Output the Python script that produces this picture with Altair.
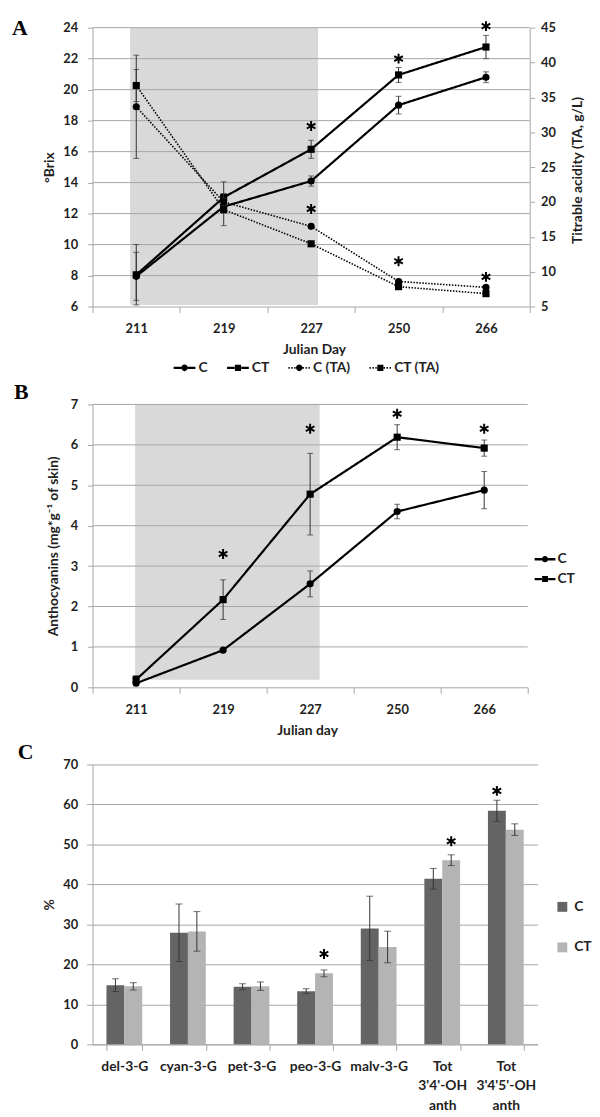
import json
import altair as alt
import pandas as pd

# ---------------- Panel A : °Brix and titrable acidity ----------------
days = ["211", "219", "227", "250", "266"]
series_A = ["C", "CT", "C (TA)", "CT (TA)"]
brix_C = [7.95, 12.45, 14.1, 19.0, 20.8]
brix_C_err = [1.55, 0.3, 0.33, 0.57, 0.35]
brix_CT = [8.05, 13.05, 16.15, 20.95, 22.75]
brix_CT_err = [1.95, 1.0, 0.58, 0.48, 0.75]
ta_C = [33.65, 20.0, 16.5, 8.6, 7.75]
ta_C_err = [7.4, 0.5, 0.3, 0.3, 0.25]
ta_CT = [36.7, 18.9, 14.0, 7.85, 6.85]
ta_CT_err = [2.3, 2.3, 0.3, 0.3, 0.25]
star_brix_days = ["227", "250", "266"]
star_brix_y = [17.65, 22.0, 24.1]
star_ta_days = ["227", "250", "266"]
star_ta_y = [19.0, 11.5, 9.25]
brix_ticks = [6, 8, 10, 12, 14, 16, 18, 20, 22, 24]
ta_ticks = [5, 10, 15, 20, 25, 30, 35, 40, 45]
shade_A_slots = [0.43, 2.58]
shade_A_brix = [6.1, 24]

# ---------------- Panel B : anthocyanins ----------------
series_B = ["C", "CT"]
antho_C = [0.1, 0.92, 2.56, 4.35, 4.88]
antho_C_err = [0.05, 0.03, 0.32, 0.18, 0.46]
antho_CT = [0.19, 2.17, 4.78, 6.19, 5.92]
antho_CT_err = [0.1, 0.49, 1.01, 0.31, 0.2]
star_B_days = ["219", "227", "250", "266"]
star_B_y = [3.3, 6.4, 6.77, 6.4]
antho_ticks = [0, 1, 2, 3, 4, 5, 6, 7]
shade_B_slots = [0.49, 2.61]
shade_B_y = [0.19, 7]

# ---------------- Panel C : anthocyanin profile ----------------
pigments = ["del-3-G", "cyan-3-G", "pet-3-G", "peo-3-G", "malv-3-G",
            "Tot 3'4'-OH anth", "Tot 3'4'5'-OH anth"]
treats = ["C", "CT"]
pct_C = [14.8, 27.9, 14.4, 13.3, 29.0, 41.4, 58.4]
pct_C_err = [1.6, 7.2, 0.75, 0.6, 8.05, 2.6, 2.65]
pct_CT = [14.5, 28.25, 14.55, 17.75, 24.35, 46.05, 53.7]
pct_CT_err = [0.92, 4.95, 1.05, 0.85, 3.95, 1.35, 1.45]
star_C_pigments = ["peo-3-G", "Tot 3'4'-OH anth", "Tot 3'4'5'-OH anth"]
star_C_treats = ["CT", "CT", "C"]
star_C_y = [22.6, 50.8, 63.4]
pct_ticks = [0, 10, 20, 30, 40, 50, 60, 70]

panel_letters = ["A", "B", "C"]

# ---------------- styles ----------------
GRID = "#a6a6a6"
INK = "#1f1f1f"
ERR = "#333333"
SHADE = "#d9d9d9"
FONT = "Lato"
DARK = "#646464"
LIGHT = "#b4b4b4"
STAR = "M0,-1L0,1M-0.87,-0.5L0.87,0.5M-0.87,0.5L0.87,-0.5"
SOLID = [1, 0]
DOTTED = [1.5, 1.5]


def _rect(x0, x1, hw):
    return f"M{x0:.3f},{-hw}H{x1:.3f}V{hw}H{x0:.3f}Z"


def legend_glyph(marker, dotted):
    """Unit-space path: a line (solid or dotted) through a circle / square marker."""
    hw = 0.11 if not dotted else 0.075
    parts = []
    for a, b in [(-1.0, -0.3), (0.3, 1.0)]:
        if dotted:
            x = a
            while x + 0.13 <= b + 1e-9:
                parts.append(_rect(x, x + 0.13, hw))
                x += 0.27
        else:
            parts.append(_rect(a, b, hw))
    if marker == "circle":
        parts.append("M-0.3,0A0.3,0.3 0 1,1 0.3,0A0.3,0.3 0 1,1 -0.3,0Z")
    else:
        parts.append("M-0.28,-0.28H0.28V0.28H-0.28Z")
    return "".join(parts)


WA, HA = 442, 282
WB, HB = 440, 286
WC, HC = 450, 283
GAP_AB, GAP_BC = 98.3, 77.3


def slot(d):
    return days.index(d) + 0.5


def series_frame(names, values, errs):
    rows = []
    for name, vals, es in zip(names, values, errs):
        for d, v, e in zip(days, vals, es):
            rows.append({"series": name, "slot": slot(d), "value": v,
                         "lo": v - e, "hi": v + e})
    return pd.DataFrame(rows)


label_expr = f"datum.value < {len(days)} ? {json.dumps(days)}[datum.value] : ''"


def x_day(field, width, title, title_x):
    return alt.X(f"{field}:Q",
                 scale=alt.Scale(domain=[0, len(days)], nice=False, zero=False),
                 axis=alt.Axis(values=list(range(len(days) + 1)), labelExpr=label_expr,
                               labelOffset=width / len(days) / 2, tickSize=6, labelPadding=10,
                               titleX=title_x, titleY=43.5, titleAlign="center",
                               titleBaseline="middle"),
                 title=title)


def letter(txt, x, y):
    return alt.Chart(pd.DataFrame({"t": [txt]})).mark_text(
        font="Liberation Serif", fontSize=22, fontWeight="bold", align="left",
        baseline="alphabetic", color="black").encode(
        text="t:N", x=alt.value(x), y=alt.value(y))


def spacer(w, h):
    return alt.Chart(pd.DataFrame({"s": [0]})).mark_point(opacity=0, size=1).encode(
        x=alt.value(0), y=alt.value(0)).properties(width=w, height=h)


def legend_layer(names, glyphs, size, **kw):
    """A legend-only layer: no rows, so it draws nothing but its legend."""
    leg = alt.Legend(title=None, orient="none", padding=0, symbolStrokeWidth=0,
                     symbolFillColor="black", symbolOpacity=1, symbolSize=size, **kw)
    return alt.Chart(pd.DataFrame({"series": pd.Series([], dtype=str)})).mark_point(
        filled=True, color="black", size=size, opacity=1
    ).encode(shape=alt.Shape("series:N", scale=alt.Scale(domain=names, range=glyphs),
                             legend=leg))


def line_panel(df, stars_df, x_enc, y_fn, shape_map, line_width, dash):
    lines = alt.Chart(df).mark_line(color="black", strokeWidth=line_width,
                                    strokeDash=dash).encode(
        x=x_enc("slot"), y=y_fn("value"), detail="series:N")
    rules = alt.Chart(df).mark_rule(color=ERR, strokeWidth=1).encode(
        x=x_enc("slot"), y=y_fn("lo"), y2="hi")
    cap_lo = alt.Chart(df).mark_tick(orient="horizontal", size=6, thickness=1, color=ERR).encode(
        x=x_enc("slot"), y=y_fn("lo"))
    cap_hi = alt.Chart(df).mark_tick(orient="horizontal", size=6, thickness=1, color=ERR).encode(
        x=x_enc("slot"), y=y_fn("hi"))
    pts = []
    for shp, names in shape_map.items():
        pts.append(alt.Chart(df).transform_filter(
            alt.FieldOneOfPredicate(field="series", oneOf=names)).mark_point(
            shape=shp, filled=True, size=52, color="black", opacity=1).encode(
            x=x_enc("slot"), y=y_fn("value")))
    st = alt.Chart(stars_df).mark_point(shape=STAR, size=100, filled=False, color="black",
                                        strokeWidth=2, opacity=1).encode(
        x=x_enc("slot"), y=y_fn("y"))
    return [rules, cap_lo, cap_hi, lines, *pts, st]


# ================= Panel A =================
brix_df = series_frame(["C", "CT"], [brix_C, brix_CT], [brix_C_err, brix_CT_err])
ta_df = series_frame(["C (TA)", "CT (TA)"], [ta_C, ta_CT], [ta_C_err, ta_CT_err])
brix_star_df = pd.DataFrame({"slot": [slot(d) for d in star_brix_days], "y": star_brix_y})
ta_star_df = pd.DataFrame({"slot": [slot(d) for d in star_ta_days], "y": star_ta_y})


def xA(field):
    return x_day(field, WA, "Julian Day", 224)


def y_brix(field):
    return alt.Y(f"{field}:Q", scale=alt.Scale(domain=[6, 24], nice=False, zero=False),
                 axis=alt.Axis(values=brix_ticks, tickSize=5, labelPadding=10, titleAngle=270,
                               titleX=-43, titleY=HA / 2, titleAlign="center",
                               titleBaseline="middle"),
                 title="°Brix")


def y_ta(field):
    return alt.Y(f"{field}:Q", scale=alt.Scale(domain=[5, 45], nice=False, zero=False),
                 axis=alt.Axis(orient="right", values=ta_ticks, tickSize=5, labelPadding=6,
                               titleAngle=270, titleX=48, titleY=HA / 2 + 3,
                               titleAlign="center", titleBaseline="middle"),
                 title="Titrable acidity (TA, g/L)")


shadeA = alt.Chart(pd.DataFrame({"x0": [shade_A_slots[0]], "x1": [shade_A_slots[1]],
                                 "y0": [shade_A_brix[0]], "y1": [shade_A_brix[1]]})
                   ).mark_rect(color=SHADE).encode(x=xA("x0"), x2="x1", y=y_brix("y0"), y2="y1")
gridA = alt.Chart(pd.DataFrame({"tick": brix_ticks[1:]})).mark_rule(
    color=GRID, strokeWidth=1).encode(y=y_brix("tick"))

brix_layer = alt.layer(shadeA, gridA,
                       *line_panel(brix_df, brix_star_df, xA, y_brix,
                                   {"circle": ["C"], "square": ["CT"]}, 2.2, SOLID))
ta_layer = alt.layer(*line_panel(ta_df, ta_star_df, xA, y_ta,
                                 {"circle": ["C (TA)"], "square": ["CT (TA)"]}, 1.6, DOTTED))
legA = legend_layer(series_A,
                    [legend_glyph("circle", False), legend_glyph("square", False),
                     legend_glyph("circle", True), legend_glyph("square", True)], 484,
                    legendX=82, legendY=333, direction="horizontal", columns=4,
                    columnPadding=19, labelOffset=3)

panelA = alt.layer(brix_layer, ta_layer, legA, letter(panel_letters[0], -81.5, 7.6)
                   ).resolve_scale(y="independent").properties(width=WA, height=HA)

# ================= Panel B =================
antho_df = series_frame(series_B, [antho_C, antho_CT], [antho_C_err, antho_CT_err])
antho_star_df = pd.DataFrame({"slot": [slot(d) for d in star_B_days], "y": star_B_y})


def xB(field):
    return x_day(field, WB, "Julian day", 217)


def y_antho(field):
    return alt.Y(f"{field}:Q", scale=alt.Scale(domain=[0, 7], nice=False, zero=False),
                 axis=alt.Axis(values=antho_ticks, tickSize=5, labelPadding=10, titleAngle=270,
                               titleX=-39, titleY=HB / 2, titleAlign="center",
                               titleBaseline="middle"),
                 title="Anthocyanins (mg*g⁻¹ of skin)")


shadeB = alt.Chart(pd.DataFrame({"x0": [shade_B_slots[0]], "x1": [shade_B_slots[1]],
                                 "y0": [shade_B_y[0]], "y1": [shade_B_y[1]]})
                   ).mark_rect(color=SHADE).encode(x=xB("x0"), x2="x1", y=y_antho("y0"), y2="y1")
gridB = alt.Chart(pd.DataFrame({"tick": antho_ticks[1:]})).mark_rule(
    color=GRID, strokeWidth=1).encode(y=y_antho("tick"))
legB = legend_layer(series_B, [legend_glyph("circle", False), legend_glyph("square", False)],
                    441, legendX=447, legendY=146, direction="vertical", rowPadding=2,
                    labelOffset=2)

panelB = alt.layer(shadeB, gridB,
                   *line_panel(antho_df, antho_star_df, xB, y_antho,
                               {"circle": ["C"], "square": ["CT"]}, 2.2, SOLID),
                   legB, letter(panel_letters[1], -79.5, -6)).properties(width=WB, height=HB)

# ================= Panel C =================
rows = []
for t, vals, errs in zip(treats, [pct_C, pct_CT], [pct_C_err, pct_CT_err]):
    for p, v, e in zip(pigments, vals, errs):
        rows.append({"pigment": p, "treat": t, "value": v, "lo": v - e, "hi": v + e})
pct_df = pd.DataFrame(rows)
pct_star_df = pd.DataFrame({"pigment": star_C_pigments, "treat": star_C_treats, "y": star_C_y})


def xC():
    return alt.X("pigment:N", sort=pigments,
                 scale=alt.Scale(paddingInner=0.4375, paddingOuter=0.21875),
                 axis=alt.Axis(labelAngle=0, labelExpr="split(datum.label, ' ')",
                               tickBand="extent", tickSize=6, labelPadding=9,
                               labelLineHeight=20, labelFontSize=14, title=None))


def offC():
    return alt.XOffset("treat:N", sort=treats)


def y_pct(field):
    return alt.Y(f"{field}:Q", scale=alt.Scale(domain=[0, 70], nice=False, zero=True),
                 axis=alt.Axis(values=pct_ticks, grid=True, gridColor=GRID, tickSize=6,
                               labelPadding=9, titleAngle=270, titleX=-43, titleY=HC / 2,
                               titleAlign="center", titleBaseline="middle"),
                 title="%")


bars = alt.Chart(pct_df).mark_bar().encode(
    x=xC(), xOffset=offC(), y=y_pct("value"),
    color=alt.Color("treat:N", scale=alt.Scale(domain=treats, range=[DARK, LIGHT]),
                    legend=alt.Legend(title=None, orient="none", legendX=468, legendY=137,
                                      padding=0, symbolType="square", symbolSize=100,
                                      symbolStrokeWidth=0, rowPadding=27, labelOffset=5)))
err_rule = alt.Chart(pct_df).mark_rule(color=ERR, strokeWidth=1).encode(
    x=xC(), xOffset=offC(), y=y_pct("lo"), y2="hi")
cap_lo = alt.Chart(pct_df).mark_tick(orient="horizontal", size=7, thickness=1, color=ERR).encode(
    x=xC(), xOffset=offC(), y=y_pct("lo"))
cap_hi = alt.Chart(pct_df).mark_tick(orient="horizontal", size=7, thickness=1, color=ERR).encode(
    x=xC(), xOffset=offC(), y=y_pct("hi"))
starsC = alt.Chart(pct_star_df).mark_point(shape=STAR, size=100, filled=False, color="black",
                                           strokeWidth=2, opacity=1).encode(
    x=xC(), xOffset=offC(), y=y_pct("y"))

panelC = alt.layer(bars, err_rule, cap_lo, cap_hi, starsC,
                   letter(panel_letters[2], -75.7, -5.3)).properties(width=WC, height=HC)

# ================= assemble =================
RES = dict(shape="independent", color="independent")
chart = alt.vconcat(panelA, spacer(WA, GAP_AB), panelB, spacer(WB, GAP_BC), panelC,
                    spacing=0, bounds="flush").resolve_scale(**RES).resolve_legend(
    **RES).properties(padding={"left": 3.5, "top": 2.7, "right": 0, "bottom": 0})

chart = chart.configure_view(stroke=None).configure_axis(
    labelFont=FONT, labelFontSize=13, labelFontWeight="bold", labelColor=INK,
    titleFont=FONT, titleFontSize=14, titleFontWeight="bold", titleColor=INK,
    domainColor=GRID, tickColor=GRID, grid=False, labelFlush=False, labelOverlap=False,
).configure_legend(labelFont=FONT, labelFontSize=14, labelFontWeight="bold", labelColor=INK)

chart.save("out.html", embed_options={"renderer": "svg", "actions": False})
